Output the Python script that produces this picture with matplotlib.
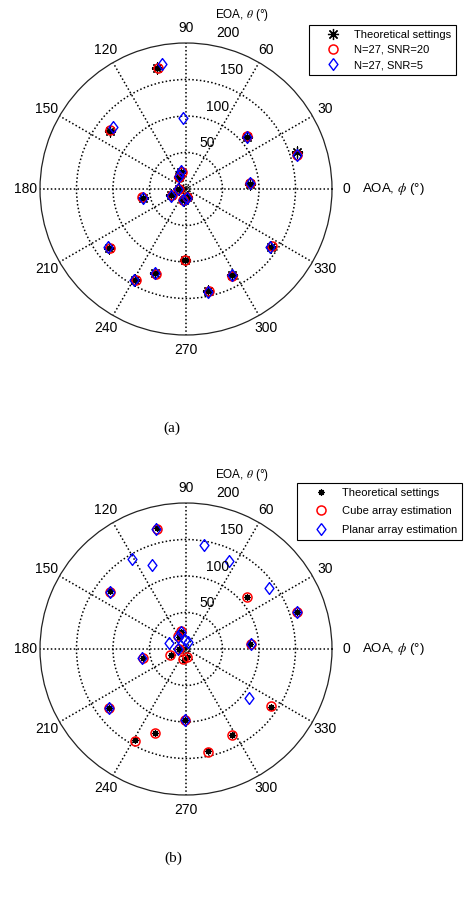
import numpy as np
import matplotlib
matplotlib.use('Agg')
import matplotlib.pyplot as plt

plt.rcParams['font.family'] = ['Liberation Sans', 'DejaVu Sans']
plt.rcParams['mathtext.fontset'] = 'stix'

# theoretical settings (AOA phi in deg, EOA theta)
true_aoa = [103.6, 142.8, 40.5, 18.5, 4.6, 105.0, 120.0, 182.0, 202.0, 191.5,
            217.3, 240.8, 250.0, 269.2, 282.3, 298.0, 326.0, 257.0, 277.0]
true_eoa = [170.0, 131.5, 110.0, 161.0, 88.0, 24.5, 19.5, 9.5, 21.5, 60.7,
            132.5, 143.5, 123.0, 97.0, 143.0, 134.0, 141.0, 15.0, 11.5]

# (a) N=27, SNR=20
snr20_aoa = [103.2, 142.5, 40.8, 17.0, 4.9, 104.0, 119.0, 183.0, 203.0, 191.0,
             217.5, 241.2, 250.3, 269.0, 282.6, 297.7, 326.4, 256.0, 276.0]
snr20_eoa = [170.5, 132.0, 110.5, 159.0, 88.5, 24.0, 19.0, 10.0, 21.0, 61.0,
             132.0, 142.5, 123.5, 97.5, 142.5, 134.5, 141.5, 15.5, 11.0]
# (a) N=27, SNR=5
snr5_aoa = [100.8, 139.7, 40.3, 17.2, 5.2, 106.0, 117.0, 181.0, 204.0, 192.0,
            216.8, 240.5, 249.6, 92.4, 282.0, 298.4, 325.5, 255.0, 274.0]
snr5_eoa = [174.0, 130.5, 110.0, 158.5, 87.5, 25.0, 20.0, 10.5, 22.0, 60.5,
            133.0, 144.0, 122.5, 98.0, 144.0, 133.5, 140.0, 16.0, 12.0]

# (b) cube array estimation
cube_aoa = [103.6, 143.0, 40.5, 18.2, 4.4, 106.0, 121.0, 182.0, 200.0, 191.8,
            217.7, 241.0, 250.0, 269.0, 282.0, 298.0, 326.2, 255.0, 279.0]
cube_eoa = [169.5, 130.5, 110.0, 160.5, 89.0, 25.0, 20.0, 10.0, 24.0, 60.7,
            133.0, 143.7, 123.0, 97.5, 144.0, 133.6, 140.5, 14.6, 11.5]
# (b) planar array estimation
planar_aoa = [103.8, 143.0, 322.4, 18.2, 4.4, 107.0, 122.0, 180.0, 161.0, 192.0,
              217.7, 121.0, 112.0, 269.0, 80.0, 64.0, 36.0, 96.0, 72.0]
planar_eoa = [169.5, 130.5, 109.4, 160.5, 89.0, 25.0, 20.0, 10.5, 24.0, 61.0,
              133.0, 144.0, 124.0, 97.0, 144.0, 134.5, 141.0, 13.0, 10.5]

center_aoa = [0.0]
center_eoa = [0.0]

ring_ticks = [50, 100, 150]
ring_labels = ['50', '100', '150', '200']
ring_label_pos = [(65.5, 69), (69, 120), (69, 174), (75, 221)]  # (deg, r)
angle_ticks = list(range(0, 360, 30))

W, H = 468, 901
fig = plt.figure(figsize=(W / 100, H / 100), dpi=100)

asterisk = (8, 2, 0)
diamond = [(0, 1), (0.75, 0), (0, -1), (-0.75, 0), (0, 1)]  # matlab-like 'd'


def polar_panel(cy, star_ms, series, legend_box, row_space):
    cx, R = 186, 146
    ax = fig.add_axes([(cx - R) / W, 1 - (cy + R) / H, 2 * R / W, 2 * R / H],
                      projection='polar')
    ax.set_rlim(0, 200)
    ax.set_xticks(np.deg2rad(angle_ticks))
    ax.set_xticklabels([])
    ax.set_yticks(ring_ticks)
    ax.set_yticklabels([])
    ax.tick_params(length=0)
    ax.grid(True, color='k', linestyle=(0, (1, 1.5)), linewidth=1.1)
    ax.spines['polar'].set_linewidth(0.9)
    ax.spines['polar'].set_color('#222222')

    for a in angle_ticks:
        ax.text(np.deg2rad(a), 220, str(a), ha='center', va='center',
                fontsize=10, clip_on=False)
    for lab, (a, r) in zip(ring_labels, ring_label_pos):
        ax.text(np.deg2rad(a), r, lab, ha='center', va='center', fontsize=10,
                clip_on=False)

    ax.plot(np.deg2rad(center_aoa), center_eoa, 'o', mfc='none', mec='k',
            ms=4, mew=0.8)
    handles = []
    h, = ax.plot(np.deg2rad(true_aoa), true_eoa, linestyle='none', marker=asterisk,
                 ms=star_ms, mec='k', mew=0.9, color='k')
    handles.append(h)
    (ra, re, rlab), (ba, be, blab) = series
    h, = ax.plot(np.deg2rad(ra), re, linestyle='none', marker='o', mfc='none',
                 mec='r', ms=6.5, mew=1.1)
    handles.append(h)
    h, = ax.plot(np.deg2rad(ba), be, linestyle='none', marker=diamond, mfc='none',
                 mec='b', ms=8.5, mew=1.0)
    handles.append(h)

    leg = ax.legend(handles, ['Theoretical settings', rlab, blab],
                    loc='upper right',
                    bbox_to_anchor=(legend_box[0] / W, 1 - legend_box[1] / H),
                    bbox_transform=fig.transFigure, borderaxespad=0,
                    fontsize=8, fancybox=False, framealpha=1, edgecolor='k',
                    handlelength=3.5, handletextpad=0.1, labelspacing=row_space,
                    borderpad=0.45)
    leg.get_frame().set_linewidth(0.8)

    fig.text(242 / W, 1 - (cy - 174) / H, r'EOA, $\theta$ (°)', ha='center',
             va='center', fontsize=8.5)
    fig.text(362 / W, 1 - cy / H, r'AOA, $\phi$ (°)', ha='left', va='center',
             fontsize=9.5)
    return ax


polar_panel(189, 8, [(snr20_aoa, snr20_eoa, 'N=27, SNR=20'),
                     (snr5_aoa, snr5_eoa, 'N=27, SNR=5')],
            (456, 25), 0.45)
polar_panel(649, 4.5, [(cube_aoa, cube_eoa, 'Cube array estimation'),
                       (planar_aoa, planar_eoa, 'Planar array estimation')],
            (462, 483), 0.75)

fig.text(172 / W, 1 - 428 / H, '(a)', ha='center', va='center', fontsize=11,
         family='Liberation Serif')
fig.text(173 / W, 1 - 858 / H, '(b)', ha='center', va='center', fontsize=11,
         family='Liberation Serif')

fig.savefig('out.png', dpi=100)
